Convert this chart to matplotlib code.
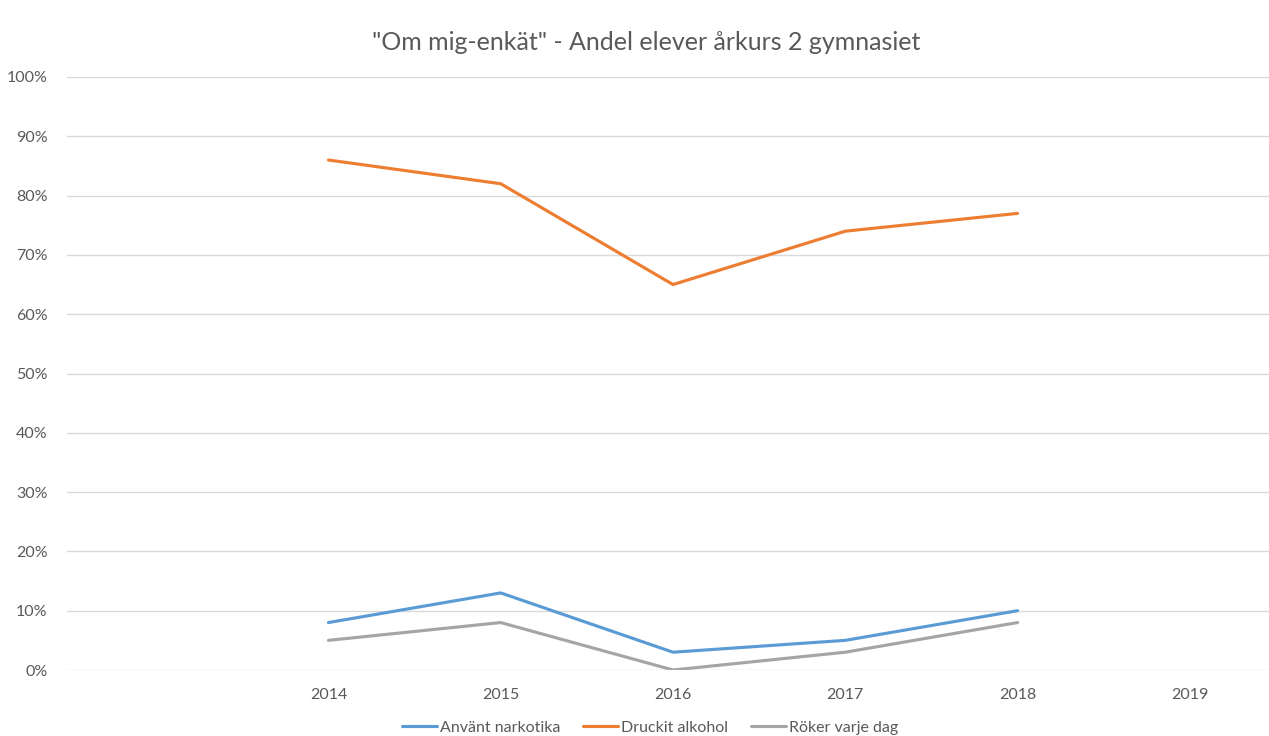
import matplotlib.pyplot as plt
from matplotlib.ticker import PercentFormatter

plt.rcParams['font.family'] = ['Lato', 'DejaVu Sans']

years = [2014, 2015, 2016, 2017, 2018]
all_years = [2014, 2015, 2016, 2017, 2018, 2019]
narkotika = [8, 13, 3, 5, 10]
alkohol = [86, 82, 65, 74, 77]
roker = [5, 8, 0, 3, 8]

W, H = 1269, 736
fig = plt.figure(figsize=(W / 100, H / 100), dpi=100)
ax = fig.add_axes([67 / W, (H - 670) / H, (W - 67) / W, (670 - 77) / H])

ax.plot(years, narkotika, color='#5B9BD5', lw=2.25, label='Använt narkotika', solid_capstyle='round')
ax.plot(years, alkohol, color='#ED7D31', lw=2.25, label='Druckit alkohol', solid_capstyle='round')
ax.plot(years, roker, color='#A5A5A5', lw=2.25, label='Röker varje dag', solid_capstyle='round')

# category axis: 2014 at 328 px, 172 px per year
x0 = 2014 - (328 - 67) / 172
x1 = 2019 + (W - 1190) / 172
ax.set_xlim(x0, x1)
ax.set_ylim(0, 100)
ax.set_yticks(range(0, 101, 10))
ax.yaxis.set_major_formatter(PercentFormatter(decimals=0))
ax.set_xticks(all_years)
ax.set_xticklabels([str(y) for y in all_years])

ax.grid(axis='y', color='#D9D9D9', lw=1)
ax.set_axisbelow(True)
for s in ax.spines.values():
    s.set_visible(False)
ax.tick_params(length=0, labelsize=11.5, labelcolor='#595959')
ax.tick_params(axis='y', pad=14)
ax.tick_params(axis='x', pad=13)

fig.text(646 / W, 1 - 42 / H, '"Om mig-enkät" - Andel elever årkurs 2 gymnasiet',
         ha='center', va='center', fontsize=18, color='#595959')

fig.legend(loc='center', bbox_to_anchor=(650 / W, 1 - 728 / H), ncol=3, frameon=False,
           fontsize=11.5, labelcolor='#595959', handlelength=2.2, handletextpad=0.2,
           columnspacing=1.4)

fig.savefig('out.png', dpi=100)
